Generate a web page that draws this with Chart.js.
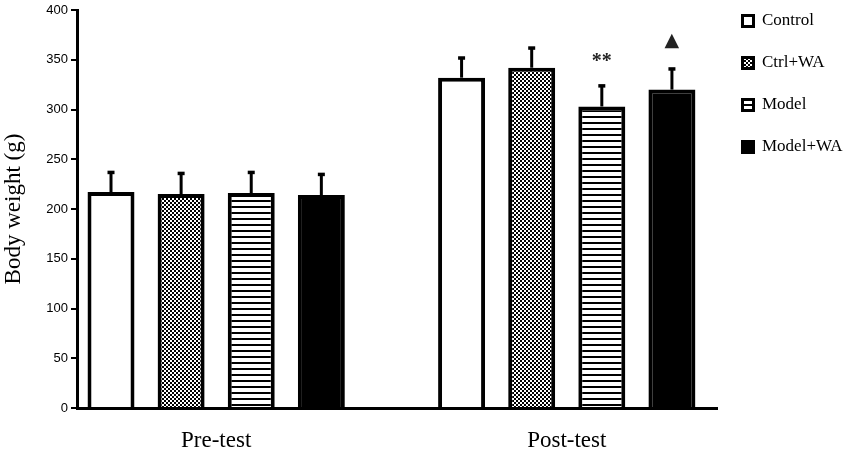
<!DOCTYPE html>
<html>
<head>
<meta charset="utf-8">
<script src="https://cdn.jsdelivr.net/npm/chart.js@4.4.1/dist/chart.umd.min.js"></script>
<style>
  html, body { margin: 0; padding: 0; background: #fff; }
  #wrap { width: 850px; height: 465px; position: relative; }
</style>
</head>
<body>
<div id="wrap"><canvas id="c"></canvas></div>
<script>
// ---- data ----
const categories = ['Pre-test', 'Post-test'];
const seriesNames = ['Control', 'Ctrl+WA', 'Model', 'Model+WA'];
const controlMean = [217, 332];
const controlSd   = [20, 20];
const ctrlWaMean  = [215, 342];
const ctrlWaSd    = [21, 20];
const modelMean   = [216, 303];
const modelSd     = [21, 21];
const modelWaMean = [214, 320];
const modelWaSd   = [21, 21];
const controlMarks = ['', ''];
const ctrlWaMarks  = ['', ''];
const modelMarks   = ['', '**'];
const modelWaMarks = ['', '\u25B2'];
const yTicks = [0, 50, 100, 150, 200, 250, 300, 350, 400];
const yTitle = 'Body weight (g)';

// ---- patterns ----
function checkerPattern() {
  const c = document.createElement('canvas');
  c.width = 4; c.height = 4;
  const g = c.getContext('2d');
  g.fillStyle = '#fff'; g.fillRect(0, 0, 4, 4);
  g.fillStyle = '#000';
  g.fillRect(0, 0, 2, 2); g.fillRect(2, 2, 2, 2);
  return g.createPattern(c, 'repeat');
}
function stripePattern() {
  const c = document.createElement('canvas');
  c.width = 4; c.height = 6;
  const g = c.getContext('2d');
  g.fillStyle = '#fff'; g.fillRect(0, 0, 4, 6);
  g.fillStyle = '#000'; g.fillRect(0, 2, 4, 2);
  return g.createPattern(c, 'repeat');
}

const toXY = arr => arr.map((v, i) => ({ x: i, y: v }));

// legend sizing
const legendFont = { family: 'Liberation Serif', size: 17 };
const mctx = document.createElement('canvas').getContext('2d');
mctx.font = '17px "Liberation Serif"';
const maxTextW = Math.max(...seriesNames.map(s => mctx.measureText(s).width));
const legendPad = 25, legendBox = 11;
const legendLeft = 717.5;
const padRight = 850 - legendLeft - legendPad - (legendBox + legendFont.size / 2 + maxTextW) - 10;

const datasets = [
  { label: seriesNames[0], data: toXY(controlMean), errors: controlSd, marks: controlMarks, backgroundColor: '#ffffff' },
  { label: seriesNames[1], data: toXY(ctrlWaMean),  errors: ctrlWaSd,  marks: ctrlWaMarks,  backgroundColor: checkerPattern() },
  { label: seriesNames[2], data: toXY(modelMean),   errors: modelSd,   marks: modelMarks,   backgroundColor: stripePattern() },
  { label: seriesNames[3], data: toXY(modelWaMean), errors: modelWaSd, marks: modelWaMarks, backgroundColor: '#000000' }
].map(d => Object.assign(d, {
  borderColor: '#000', borderWidth: 4, borderSkipped: 'start',
  barPercentage: 0.67, categoryPercentage: 0.8
}));

const errorBars = {
  id: 'errorBars',
  afterDatasetsDraw(chart) {
    const ctx = chart.ctx;
    const ys = chart.scales.y;
    ctx.save();
    chart.data.datasets.forEach((ds, di) => {
      const meta = chart.getDatasetMeta(di);
      meta.data.forEach((bar, i) => {
        const v = ds.data[i].y, e = ds.errors[i];
        const top = ys.getPixelForValue(v + e);
        ctx.strokeStyle = '#000';
        ctx.lineWidth = 3;
        ctx.beginPath();
        ctx.moveTo(bar.x, bar.y);
        ctx.lineTo(bar.x, top);
        ctx.stroke();
        ctx.fillStyle = '#000';
        ctx.fillRect(bar.x - 3.5, top - 1.5, 7, 3.5);
        const m = ds.marks[i];
        if (m) {
          ctx.fillStyle = '#222';
          ctx.textAlign = 'center';
          ctx.textBaseline = 'middle';
          if (m === '**') {
            ctx.font = 'bold 20px "Liberation Serif"';
            ctx.fillText(m, bar.x, top - 24);
          } else {
            ctx.font = '19px "DejaVu Sans"';
            ctx.fillText(m, bar.x, top - 28);
          }
        }
      });
    });
    ctx.restore();
  }
};

new Chart(document.getElementById('c'), {
  type: 'bar',
  data: { datasets },
  options: {
    responsive: true,
    maintainAspectRatio: false,
    animation: false,
    events: [],
    layout: { padding: { top: -12.5, right: padRight, bottom: 0, left: 0 } },
    plugins: {
      tooltip: { enabled: false },
      legend: {
        position: 'right',
        align: 'start',
        labels: {
          boxWidth: legendBox, boxHeight: legendBox, padding: legendPad,
          color: '#000', font: legendFont,
          generateLabels: chart => Chart.defaults.plugins.legend.labels.generateLabels(chart)
            .map(item => Object.assign(item, { lineWidth: 3 }))
        }
      }
    },
    scales: {
      x: {
        type: 'linear',
        min: -0.397,
        max: 1.43,
        offset: false,
        afterBuildTicks: s => { s.ticks = categories.map((c, i) => ({ value: i })); },
        afterFit: s => { s.height = 57; },
        grid: { display: false, drawTicks: false },
        border: { display: true, color: '#000', width: 3 },
        ticks: {
          callback: v => categories[v],
          color: '#000',
          padding: 19,
          maxRotation: 0,
          font: { family: 'Liberation Serif', size: 23 }
        }
      },
      y: {
        min: 0,
        max: 400,
        afterBuildTicks: s => { s.ticks = yTicks.map(v => ({ value: v })); },
        afterFit: s => { s.width = 77; },
        grid: { display: true, drawOnChartArea: false, drawTicks: true, tickLength: 6, color: '#000', lineWidth: 2 },
        border: { display: true, color: '#000', width: 3 },
        ticks: {
          color: '#000',
          padding: 3,
          font: { family: 'Liberation Sans', size: 13, lineHeight: '14px' }
        },
        title: {
          display: true,
          text: yTitle,
          color: '#000',
          padding: 0,
          font: { family: 'Liberation Serif', size: 23 }
        }
      }
    }
  },
  plugins: [errorBars]
});
</script>
</body>
</html>
